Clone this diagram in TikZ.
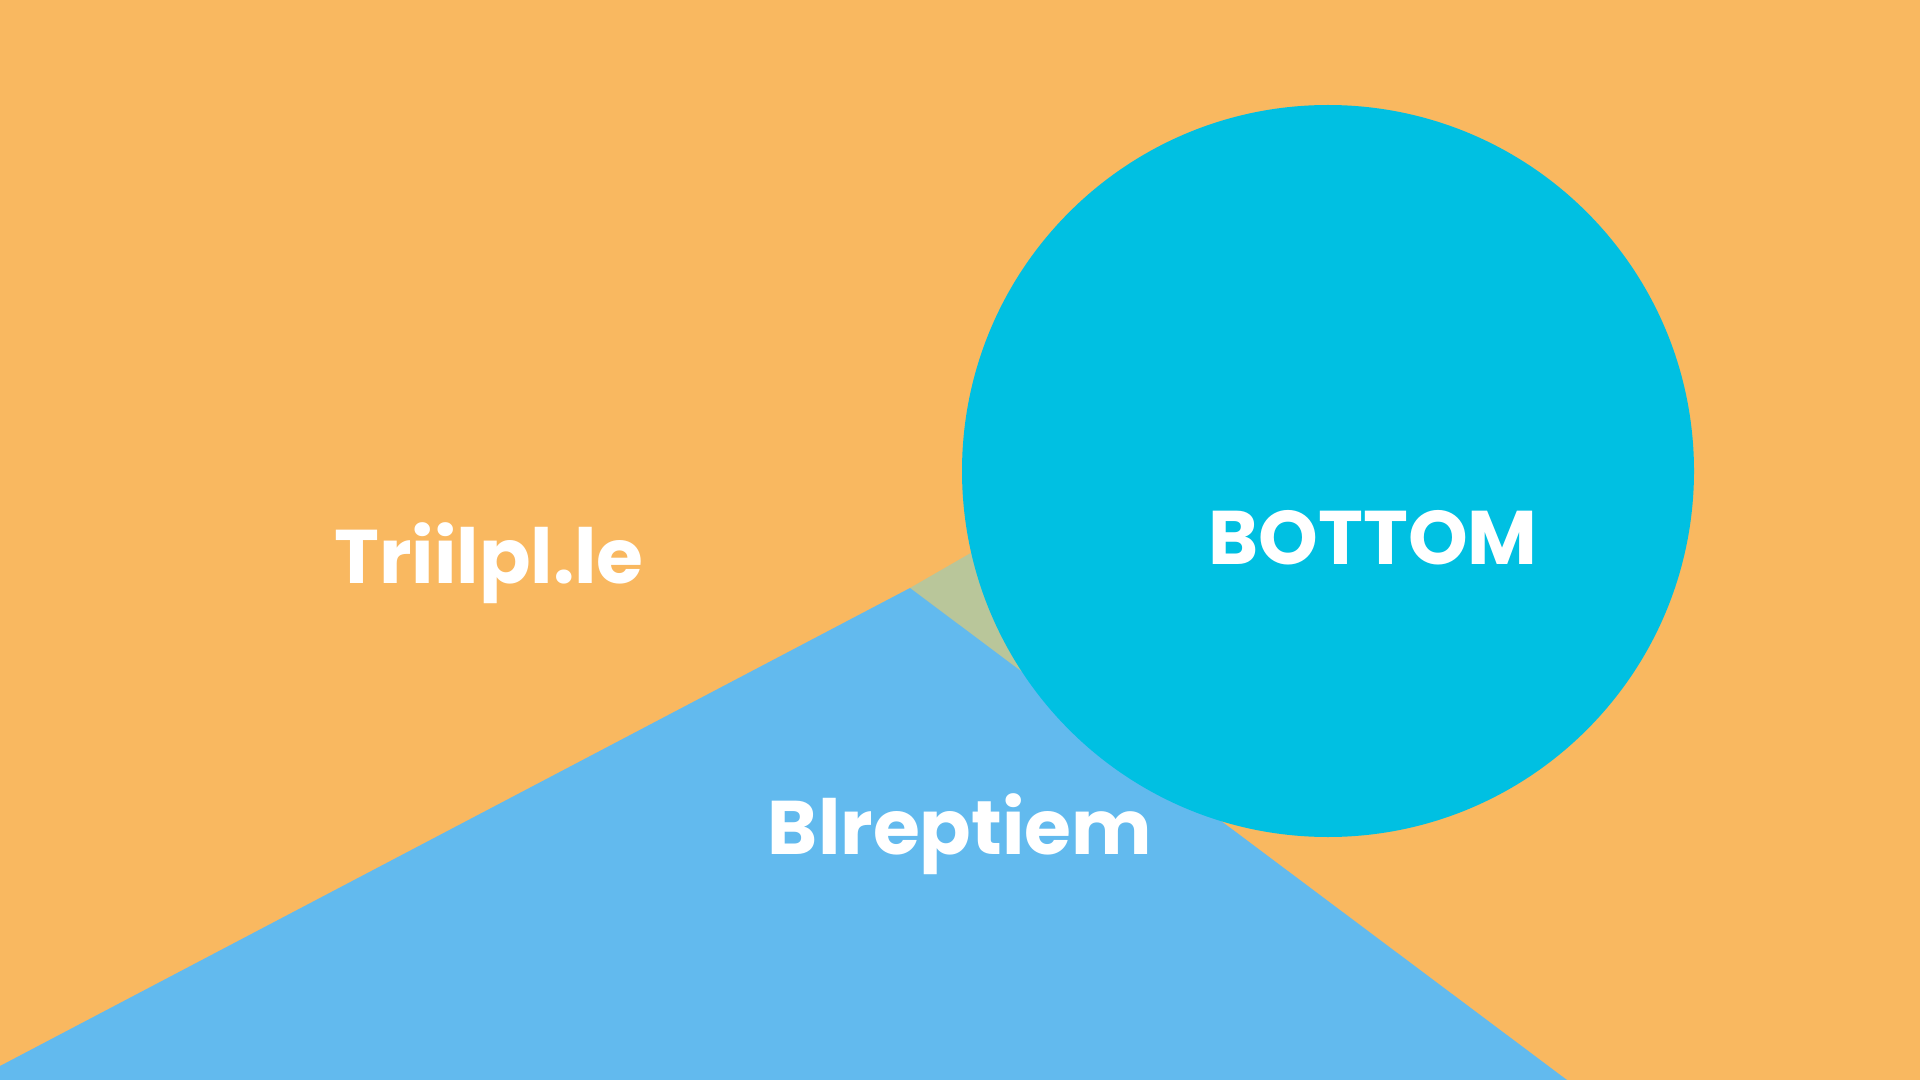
\documentclass[tikz,border=0pt]{standalone}
\usepackage{fontspec}
\setmainfont{Poppins}[UprightFont=* Bold]
\tikzset{every picture/.style={line width=0.75pt}}
\definecolor{bgOrange}{RGB}{249,184,96}
\definecolor{triBlue}{RGB}{98,186,238}
\definecolor{discCyan}{RGB}{0,192,226}
\definecolor{wedgeGreen}{RGB}{185,198,154}
\def \apexX {910}
\def \apexY {588}
\def \discX {1328}
\def \discY {471}
\def \discR {366}

\begin{document}
\begin{tikzpicture}[x=0.75pt,y=0.75pt,yscale=-1,xscale=1]

	%Shape: Background [id:bg]
	\fill [bgOrange] (0,0) rectangle (1920,1080) ;
	\useasboundingbox (0,0) rectangle (1920,1080) ;

	%Shape: Wedge [id:wedge]
	\fill [wedgeGreen] (\apexX,\apexY) -- (1120,467) -- (1120,746) -- cycle ;
	%Shape: Triangle [id:tri]
	\fill [triBlue] (\apexX,\apexY) -- (1567,1080) -- (0,1080) -- (0,1066) -- cycle ;
	%Shape: Circle [id:disc]
	\fill [discCyan] (\discX,\discY) circle (\discR) ;

	% Text Node
	\draw (489,583) node (lblTriple) [anchor=base][inner sep=0pt]  [font=\fontsize{57}{66}\selectfont,color=white] {Triilpl.le};
	% Text Node
	\draw (1373,564) node (lblBottom) [anchor=base][inner sep=0pt]  [font=\fontsize{57}{66}\selectfont,color=white] {BOTTOM};
	% Text Node
	\draw (960,854) node (lblBlrep) [anchor=base][inner sep=0pt]  [font=\fontsize{57}{66}\selectfont,color=white] {Blreptiem};

\end{tikzpicture}
\end{document}
